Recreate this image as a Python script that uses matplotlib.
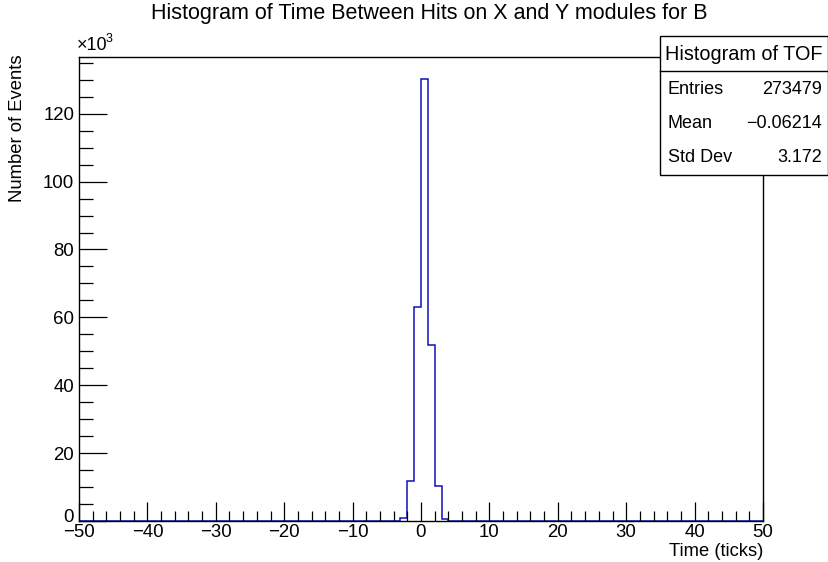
import numpy as np
import matplotlib
matplotlib.use("Agg")
import matplotlib.pyplot as plt
from matplotlib.ticker import MultipleLocator, FuncFormatter
from matplotlib.patches import Rectangle
from matplotlib.lines import Line2D

plt.rcParams['font.family'] = ['Liberation Sans', 'DejaVu Sans']

# histogram of TOF, 1-tick bins from -50 to 50 (only filled bins listed)
x_min, x_max = -50, 50
filled_bins = [-3, -2, -1, 0, 1, 2, 3]          # lower edge of each filled bin
filled_counts = [900, 11800, 63100, 130200, 51800, 10300, 700]

title = "Histogram of Time Between Hits on X and Y modules for B"
stats_name = "Histogram of TOF"
stats_labels = ["Entries", "Mean", "Std Dev"]
stats_values = ["273479", "\u22120.06214", "3.172"]

edges = np.arange(x_min, x_max + 1)
counts = np.zeros(len(edges) - 1)
for b, c in zip(filled_bins, filled_counts):
    counts[b - x_min] = c

fig = plt.figure(figsize=(8.29, 5.62), dpi=100)
ax = fig.add_axes([79 / 829, 1 - 521 / 562, 684 / 829, 464 / 562])

ax.stairs(counts, edges, color='#1010c0', linewidth=1.1, zorder=1)
ax.set_xlim(x_min, x_max)
ax.set_ylim(0, max(filled_counts) * 1.05)

ax.xaxis.set_major_locator(MultipleLocator(10))
ax.xaxis.set_minor_locator(MultipleLocator(2))
ax.yaxis.set_major_locator(MultipleLocator(20000))
ax.yaxis.set_minor_locator(MultipleLocator(5000))
# the y "0" is drawn by hand a little higher, like ROOT does
ax.yaxis.set_major_formatter(FuncFormatter(lambda v, p: f"{v / 1000:.0f}" if v > 0 else ""))
ax.xaxis.set_major_formatter(FuncFormatter(lambda v, p: f"{v:.0f}".replace('-', '\u2212')))

ax.tick_params(axis='x', which='major', direction='in', length=14, width=0.9, labelsize=13.4, pad=2)
ax.tick_params(axis='x', which='minor', direction='in', length=7, width=0.9)
ax.tick_params(axis='y', which='major', direction='in', length=20, width=0.9, labelsize=13.4, pad=3.5)
ax.tick_params(axis='y', which='minor', direction='in', length=10, width=0.9)
for s in ax.spines.values():
    s.set_linewidth(1.0)
    s.set_zorder(3)

fig.text(74 / 829, 1 - 517 / 562, "0", ha='right', va='center', fontsize=13.4)
fig.text(429 / 829, 1 - 14 / 562, title, ha='center', va='center', fontsize=15.5)
fig.text(18 / 829, 1 - 54 / 562, "Number of Events", rotation=90, ha='center', va='top', fontsize=13.3)
fig.text(763 / 829, 1 - 551 / 562, "Time (ticks)", ha='right', va='center', fontsize=13.2)
fig.text(77 / 829, 1 - 46 / 562, "\u00d710", ha='left', va='center', fontsize=13)
fig.text(106 / 829, 1 - 39 / 562, "3", ha='left', va='center', fontsize=9)

# stats box
bx0, bx1 = 660 / 829, 828 / 829
by0, by1 = 1 - 175 / 562, 1 - 36 / 562
fig.add_artist(Rectangle((bx0, by0), bx1 - bx0, by1 - by0, transform=fig.transFigure,
                         facecolor='white', edgecolor='black', linewidth=1.0, zorder=5))
fig.add_artist(Line2D([bx0, bx1], [1 - 71 / 562] * 2, transform=fig.transFigure,
                      color='black', linewidth=1.0, zorder=6))
fig.text((bx0 + bx1) / 2, 1 - 54 / 562, stats_name, ha='center', va='center', fontsize=14.3, zorder=7)
for i, (lab, val) in enumerate(zip(stats_labels, stats_values)):
    yy = 1 - (89 + 34 * i) / 562
    fig.text(668 / 829, yy, lab, ha='left', va='center', fontsize=13, zorder=7)
    fig.text(822 / 829, yy, val, ha='right', va='center', fontsize=13, zorder=7)

fig.savefig("out.png", dpi=100)
